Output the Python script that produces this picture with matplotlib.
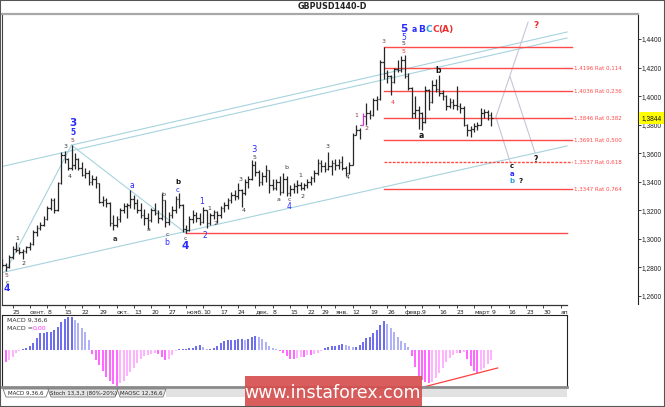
import matplotlib
matplotlib.use('Agg')
import matplotlib.pyplot as plt
import numpy as np
import pandas as pd
from matplotlib.collections import LineCollection
from matplotlib.patches import Rectangle, Polygon

plt.rcParams['font.family'] = ['DejaVu Sans']

# ---------------- data ----------------
opens = [1.2850, 1.2815, 1.2800, 1.2875, 1.2930, 1.2925, 1.2905, 1.2915, 1.2940, 1.2965,
         1.3045, 1.3075, 1.3100, 1.3140, 1.3215, 1.3270, 1.3200, 1.3390, 1.3590, 1.3560,
         1.3500, 1.3520, 1.3560, 1.3500, 1.3450, 1.3460, 1.3400, 1.3420, 1.3390, 1.3260,
         1.3270, 1.3250, 1.3110, 1.3100, 1.3140, 1.3200, 1.3230, 1.3240, 1.3280, 1.3250,
         1.3200, 1.3170, 1.3150, 1.3130, 1.3200, 1.3180, 1.3150, 1.3270, 1.3120, 1.3170,
         1.3200, 1.3280, 1.3240, 1.3070, 1.3060, 1.3140, 1.3170, 1.3150, 1.3120, 1.3200,
         1.3110, 1.3170, 1.3190, 1.3170, 1.3220, 1.3240, 1.3270, 1.3310, 1.3300, 1.3340,
         1.3320, 1.3400, 1.3420, 1.3520, 1.3470, 1.3400, 1.3440, 1.3480, 1.3380, 1.3360,
         1.3400, 1.3330, 1.3420, 1.3320, 1.3350, 1.3370, 1.3380, 1.3360, 1.3380, 1.3400,
         1.3430, 1.3460, 1.3530, 1.3510, 1.3490, 1.3510, 1.3530, 1.3520, 1.3540, 1.3500,
         1.3460, 1.3520, 1.3730, 1.3760, 1.3800, 1.3860, 1.3880, 1.3870, 1.3970, 1.3980,
         1.4240, 1.4160, 1.4140, 1.4100, 1.4190, 1.4180, 1.4250, 1.4140, 1.4060, 1.3880,
         1.3900, 1.3880, 1.3820, 1.4040, 1.3960, 1.4080, 1.4050, 1.4020, 1.4000, 1.3930,
         1.3960, 1.3940, 1.3930, 1.3920, 1.3800, 1.3760, 1.3770, 1.3790, 1.3800, 1.3880,
         1.3890, 1.3870]
highs = [1.2860, 1.2830, 1.2885, 1.2950, 1.2978, 1.2945, 1.2930, 1.2950, 1.2980, 1.3060,
         1.3095, 1.3120, 1.3160, 1.3230, 1.3290, 1.3290, 1.3400, 1.3610, 1.3618, 1.3570,
         1.3657, 1.3600, 1.3570, 1.3540, 1.3500, 1.3480, 1.3450, 1.3440, 1.3390, 1.3300,
         1.3290, 1.3260, 1.3170, 1.3160, 1.3220, 1.3250, 1.3250, 1.3340, 1.3310, 1.3280,
         1.3250, 1.3210, 1.3180, 1.3220, 1.3250, 1.3200, 1.3320, 1.3275, 1.3190, 1.3230,
         1.3300, 1.3320, 1.3245, 1.3100, 1.3160, 1.3200, 1.3190, 1.3180, 1.3225, 1.3205,
         1.3180, 1.3200, 1.3195, 1.3230, 1.3260, 1.3290, 1.3330, 1.3340, 1.3390, 1.3350,
         1.3420, 1.3440, 1.3550, 1.3549, 1.3480, 1.3470, 1.3520, 1.3485, 1.3420, 1.3420,
         1.3440, 1.3460, 1.3440, 1.3380, 1.3390, 1.3410, 1.3400, 1.3390, 1.3420, 1.3440,
         1.3480, 1.3560, 1.3550, 1.3540, 1.3612, 1.3550, 1.3560, 1.3560, 1.3580, 1.3510,
         1.3540, 1.3743, 1.3800, 1.3780, 1.3880, 1.3950, 1.3900, 1.3990, 1.4000, 1.4250,
         1.4345, 1.4180, 1.4150, 1.4200, 1.4250, 1.4280, 1.4285, 1.4160, 1.4065, 1.4000,
         1.3930, 1.3890, 1.4070, 1.4050, 1.4110, 1.4120, 1.4145, 1.4040, 1.4010, 1.3990,
         1.3980, 1.4070, 1.3950, 1.3930, 1.3805, 1.3790, 1.3810, 1.3820, 1.3920, 1.3910,
         1.3900, 1.3890]
lows = [1.2805, 1.2774, 1.2795, 1.2860, 1.2905, 1.2895, 1.2860, 1.2900, 1.2920, 1.2955,
        1.3020, 1.3060, 1.3090, 1.3130, 1.3200, 1.3180, 1.3195, 1.3385, 1.3530, 1.3480,
        1.3480, 1.3490, 1.3480, 1.3440, 1.3430, 1.3380, 1.3375, 1.3360, 1.3250, 1.3230,
        1.3225, 1.3090, 1.3060, 1.3080, 1.3120, 1.3185, 1.3150, 1.3220, 1.3210, 1.3180,
        1.3150, 1.3100, 1.3070, 1.3120, 1.3170, 1.3110, 1.3130, 1.3080, 1.3100, 1.3150,
        1.3180, 1.3220, 1.3045, 1.3039, 1.3055, 1.3110, 1.3120, 1.3100, 1.3110, 1.3076,
        1.3100, 1.3140, 1.3110, 1.3150, 1.3190, 1.3210, 1.3250, 1.3270, 1.3280, 1.3223,
        1.3310, 1.3360, 1.3415, 1.3440, 1.3370, 1.3380, 1.3400, 1.3320, 1.3340, 1.3340,
        1.3310, 1.3325, 1.3300, 1.3300, 1.3320, 1.3320, 1.3340, 1.3340, 1.3360, 1.3380,
        1.3400, 1.3450, 1.3470, 1.3470, 1.3485, 1.3450, 1.3480, 1.3490, 1.3480, 1.3440,
        1.3455, 1.3515, 1.3725, 1.3700, 1.3795, 1.3800, 1.3840, 1.3860, 1.3900, 1.3975,
        1.4120, 1.4090, 1.4010, 1.4090, 1.4170, 1.4170, 1.4130, 1.4040, 1.3850, 1.3850,
        1.3770, 1.3764, 1.3815, 1.3900, 1.3950, 1.4030, 1.4000, 1.3970, 1.3900, 1.3920,
        1.3910, 1.3900, 1.3880, 1.3790, 1.3720, 1.3711, 1.3750, 1.3760, 1.3795, 1.3850,
        1.3830, 1.3790]
closes = [1.2815, 1.2800, 1.2875, 1.2930, 1.2925, 1.2905, 1.2915, 1.2940, 1.2965, 1.3045,
          1.3075, 1.3100, 1.3140, 1.3215, 1.3270, 1.3200, 1.3390, 1.3590, 1.3560, 1.3500,
          1.3520, 1.3560, 1.3500, 1.3450, 1.3460, 1.3400, 1.3420, 1.3390, 1.3260, 1.3270,
          1.3250, 1.3110, 1.3100, 1.3140, 1.3200, 1.3230, 1.3240, 1.3280, 1.3250, 1.3200,
          1.3170, 1.3150, 1.3130, 1.3200, 1.3180, 1.3150, 1.3270, 1.3120, 1.3170, 1.3200,
          1.3280, 1.3240, 1.3070, 1.3060, 1.3140, 1.3170, 1.3150, 1.3120, 1.3200, 1.3110,
          1.3170, 1.3190, 1.3170, 1.3220, 1.3240, 1.3270, 1.3310, 1.3300, 1.3340, 1.3320,
          1.3400, 1.3420, 1.3520, 1.3470, 1.3400, 1.3440, 1.3480, 1.3380, 1.3360, 1.3400,
          1.3330, 1.3420, 1.3320, 1.3350, 1.3370, 1.3380, 1.3360, 1.3380, 1.3400, 1.3430,
          1.3460, 1.3530, 1.3510, 1.3490, 1.3510, 1.3530, 1.3520, 1.3540, 1.3500, 1.3460,
          1.3520, 1.3730, 1.3760, 1.3800, 1.3860, 1.3880, 1.3870, 1.3970, 1.3980, 1.4240,
          1.4160, 1.4140, 1.4100, 1.4190, 1.4180, 1.4250, 1.4140, 1.4060, 1.3880, 1.3900,
          1.3880, 1.3820, 1.4040, 1.3960, 1.4080, 1.4050, 1.4020, 1.4000, 1.3930, 1.3960,
          1.3940, 1.3930, 1.3920, 1.3800, 1.3760, 1.3770, 1.3790, 1.3800, 1.3880, 1.3890,
          1.3870, 1.3844]
macd_hist = [-12, -12, -10, -7, -3, -1, 1, 2, 4, 7,
             12, 17, 17, 18, 18, 20, 23, 28, 31, 33,
             33, 30, 27, 22, 18, 10, -4, -10, -15, -21,
             -27, -31, -34, -36, -33, -31, -26, -22, -18, -13,
             -9, -6, -5, -4, -3, -4, -7, -10, -9, -5,
             -1, 1, 1, 1, 2, 2, 4, 5, 3, 1,
             1, 2, 4, 7, 9, 10, 10, 10, 11, 11,
             10, 11, 13, 14, 13, 11, 8, 4, 2, 1,
             -1, -3, -6, -9, -9, -8, -7, -7, -5, -5,
             -4, -3, -1, 2, 3, 4, 4, 5, 6, 5,
             4, 3, 3, 5, 8, 12, 13, 17, 20, 25,
             29, 26, 22, 18, 13, 9, 7, 3, -6, -17,
             -26, -30, -32, -33, -32, -28, -23, -18, -12, -8,
             -5, -3, -3, -2, -9, -16, -21, -23, -20, -18,
             -14, -10]
highlight_bar = 104
fib_levels = [1.4345, 1.4196, 1.4036, 1.3846, 1.3691, 1.3537, 1.3347]
fib_ratios = ['', '0,114', '0,236', '0,382', '0,500', '0,618', '0,764']
support_level = 1.3041
last_price = 1.3844
price_ticks = [1.26, 1.28, 1.30, 1.32, 1.34, 1.36, 1.38, 1.40, 1.42, 1.44]
date_tick_labels = ['25', 'сент.', '8', '15', '22', '29', 'окт.', '13', '20', '27',
                    'нояб.', '10', '17', '24', 'дек.', '8', '15', '22', '29', 'янв.',
                    '12', '19', '26', 'февр.', '9', '16', '23', 'март', '9', '16',
                    '23', '30', 'ап']

# trading-day calendar (bar index <-> date)
holidays = pd.to_datetime(['2017-12-25', '2018-01-01'])
days = pd.bdate_range('2017-08-22', '2018-04-27')
days = days[~days.isin(holidays)]
fridays = days[(days.weekday == 4) & (days >= '2017-08-25') & (days <= '2018-04-06')]
tick_pos = days.get_indexer(fridays)

# ---------------- layout ----------------
W, H = 665, 407
fig = plt.figure(figsize=(W / 100, H / 100), dpi=100)
fig.patch.set_facecolor('white')


def frect(x0, y0, x1, y1):
    return [x0 / W, 1 - y1 / H, (x1 - x0) / W, (y1 - y0) / H]


def fp(x, y):
    return (x / W, 1 - y / H)


BAR0, STEP = 2.1, 3.47
XL = (1.5 - BAR0) / STEP
XR_MAIN = (638 - BAR0) / STEP
XR_SUB = (567 - BAR0) / STEP
YTOP = 1.44 + (39 - 14) / 1428
YBOT = 1.44 - (304 - 39) / 1428

ax = fig.add_axes(frect(1.5, 14, 638, 304))
ax.set_xlim(XL, XR_MAIN)
ax.set_ylim(YBOT, YTOP)
ax.set_facecolor('white')
ax.spines['bottom'].set_visible(False)
ax.spines['top'].set_color('#a8a8a8')
ax.spines['top'].set_linewidth(1.6)
ax.spines['left'].set_color('#444444')
ax.spines['right'].set_color('#222222')
ax.spines['right'].set_linewidth(0.8)
ax.set_xticks([])
ax.yaxis.tick_right()
ax.set_yticks(price_ticks)
ax.set_yticklabels([f'{v:.4f}'.replace('.', ',') for v in price_ticks],
                   fontfamily='Liberation Sans')
ax.tick_params(axis='y', direction='out', length=2.0, width=0.6, pad=0.6,
               labelsize=4.8, colors='#222222')

n = len(closes)
idx = np.arange(n)

# channel and wave lines
chan_col = '#a6d3de'
ax.plot([-0.6, 162.8], [1.2761, 1.3651], color=chan_col, lw=0.8, zorder=1)
ax.plot([-0.6, 162.8], [1.3504, 1.4407], color=chan_col, lw=0.8, zorder=1)
ax.plot([20, 162.8], [highs[20], 1.4449], color=chan_col, lw=0.8, zorder=1)
ax.plot([1, 20], [lows[1], highs[20]], color=chan_col, lw=0.8, zorder=1)
ax.plot([20, 53], [highs[20], lows[53]], color=chan_col, lw=0.8, zorder=1)

# projection lines
proj_col = '#cbc3d6'
ax.plot([142.3, 151.6], [1.3854, 1.4519], color=proj_col, lw=0.8, zorder=1)
ax.plot([146.4, 153.6], [1.4134, 1.3602], color=proj_col, lw=0.8, zorder=1)
ax.plot([142.3, 146.4], [1.3854, 1.3539], color=proj_col, lw=0.8, zorder=1)

# fib lines
fib_col = '#ff4a4a'
for lev, r in zip(fib_levels, fib_ratios):
    ls = (0, (2, 1)) if r == '0,618' else '-'
    ax.plot([110, 164.1], [lev, lev], color=fib_col, lw=1.0, ls=ls, zorder=2)
    if r:
        ax.text(164.8, lev, f'{lev:.4f}'.replace('.', ',') + ' Rat ' + r,
                fontsize=4, color=fib_col, va='center', ha='left')
ax.plot([53, XR_SUB], [support_level, support_level], color=fib_col, lw=1.0, zorder=2)

# OHLC bars
segs, cols = [], []
for i in range(n):
    c = '#d030d0' if i == highlight_bar else '#262626'
    segs += [[(i, lows[i]), (i, highs[i])],
             [(i - 0.45, opens[i]), (i, opens[i])],
             [(i, closes[i]), (i + 0.45, closes[i])]]
    cols += [c, c, c]
ax.add_collection(LineCollection(segs, colors=cols, linewidths=0.9, zorder=3))

# wave labels
BLUE, CYAN, RED, BROWN, DARK = '#2a2aff', '#2f9fdf', '#ee3030', '#8a3c3c', '#3a3a3a'
labels = [
    (1.4, 1.2747, '5', BROWN, 4.5, 'normal'), (1.4, 1.2698, 'c', DARK, 4.5, 'normal'),
    (1.4, 1.2652, '4', BLUE, 6.5, 'bold'),
    (4.3, 1.3006, '1', DARK, 4.5, 'normal'), (6.3, 1.2831, '2', DARK, 4.5, 'normal'),
    (18.4, 1.3646, '3', DARK, 4.5, 'normal'), (19.6, 1.3434, '4', DARK, 4.5, 'normal'),
    (20.4, 1.3688, '5', BROWN, 4.5, 'normal'), (20.4, 1.3745, '5', BLUE, 5.5, 'bold'),
    (20.4, 1.3812, '3', BLUE, 7.5, 'bold'),
    (32.5, 1.2999, 'a', DARK, 5, 'bold'), (37.4, 1.3371, 'a', BLUE, 5.5, 'normal'),
    (42.3, 1.3069, 'a', DARK, 4.5, 'normal'), (46.4, 1.3308, 'b', DARK, 4.5, 'normal'),
    (47.5, 1.3034, 'c', DARK, 4.5, 'normal'), (47.5, 1.2978, 'b', BLUE, 5.5, 'normal'),
    (50.7, 1.3400, 'b', '#111111', 5, 'bold'), (50.7, 1.3346, 'c', BLUE, 5, 'normal'),
    (52.7, 1.3006, 'c', DARK, 4.5, 'normal'), (52.7, 1.2948, '4', BLUE, 7.5, 'bold'),
    (57.6, 1.3259, '1', BLUE, 5.5, 'normal'), (58.5, 1.3027, '2', BLUE, 5.5, 'normal'),
    (59.6, 1.3210, '1', DARK, 4.5, 'normal'), (61.6, 1.3111, '2', DARK, 4.5, 'normal'),
    (68.6, 1.3413, '3', DARK, 4.5, 'normal'), (69.7, 1.3196, '4', DARK, 4.5, 'normal'),
    (72.6, 1.3625, '3', BLUE, 6, 'normal'), (72.6, 1.3567, '5', DARK, 4.5, 'normal'),
    (79.8, 1.3273, 'a', DARK, 4.5, 'normal'), (81.8, 1.3497, 'b', DARK, 4.5, 'normal'),
    (82.7, 1.3276, 'c', DARK, 4.5, 'normal'), (82.7, 1.3228, '4', BLUE, 5.5, 'normal'),
    (85.9, 1.3441, '1', DARK, 4.5, 'normal'), (86.7, 1.3294, '2', DARK, 4.5, 'normal'),
    (93.9, 1.3644, '3', DARK, 4.5, 'normal'), (99.7, 1.3427, '4', DARK, 4.5, 'normal'),
    (102.0, 1.3861, '1', BROWN, 4.5, 'normal'), (104.9, 1.3770, '2', BROWN, 4.5, 'normal'),
    (109.8, 1.4379, '3', BROWN, 4.5, 'normal'), (112.7, 1.3952, '4', RED, 4.5, 'normal'),
    (115.8, 1.4472, '5', BLUE, 7.5, 'bold'), (115.8, 1.4414, '5', BLUE, 5.5, 'normal'),
    (115.8, 1.4365, '5', DARK, 4.5, 'normal'), (115.8, 1.4309, '5', RED, 4.5, 'normal'),
    (118.8, 1.4470, 'a', BLUE, 5.5, 'bold'), (121.0, 1.4470, 'B', BLUE, 6.5, 'bold'),
    (123.0, 1.4470, 'C', CYAN, 6.5, 'bold'), (125.0, 1.4470, 'C', RED, 6.5, 'bold'),
    (128.0, 1.4470, '(A)', RED, 6.5, 'bold'),
    (125.6, 1.4176, 'b', '#111111', 5.5, 'bold'), (120.7, 1.3721, 'a', '#111111', 5.5, 'bold'),
    (153.9, 1.4498, '?', RED, 6.5, 'bold'),
    (146.9, 1.3508, 'c', '#111111', 5, 'bold'), (146.9, 1.3457, 'a', BLUE, 5, 'bold'),
    (146.9, 1.3406, 'b', CYAN, 5, 'bold'), (149.3, 1.3406, '?', '#111111', 5, 'bold'),
    (153.9, 1.3553, '?', '#111111', 5.5, 'bold'),
]
for x, y, t, c, s, w in labels:
    ax.text(x, y, t, color=c, fontsize=s, fontweight=w, ha='center', va='center', zorder=5)

# current price box
fig.add_artist(Rectangle(fp(638.5, 124), 26 / W, 12 / H, transform=fig.transFigure,
                         facecolor='#ffff00', edgecolor='none', zorder=10))
fig.text(*fp(651.5, 118.3), f'{last_price:.4f}'.replace('.', ','), fontsize=4.8,
         fontfamily='Liberation Sans', ha='center', va='center', color='#111111', zorder=11)

# date axis
axd = fig.add_axes(frect(1.5, 303.6, 567, 304.6))
axd.set_xlim(XL, XR_SUB)
axd.set_ylim(0, 1)
for s in ['top', 'left', 'right']:
    axd.spines[s].set_visible(False)
axd.spines['bottom'].set_color('#333333')
axd.spines['bottom'].set_linewidth(0.9)
axd.set_yticks([])
axd.set_xticks(tick_pos)
axd.set_xticklabels(date_tick_labels, ha='left')
axd.tick_params(axis='x', direction='out', length=2.5, width=0.6, pad=1.2,
                labelsize=4.4, colors='#222222')
axd.patch.set_alpha(0)

# MACD panel
axm = fig.add_axes(frect(1.5, 315, 567, 387))
axm.set_xlim(XL, XR_SUB)
axm.set_ylim(-37, 35)
axm.set_xticks([])
axm.set_yticks([])
for s in ['top', 'left', 'right']:
    axm.spines[s].set_color('#222222')
    axm.spines[s].set_linewidth(0.8)
axm.spines['bottom'].set_color('#8a8a8a')
axm.spines['bottom'].set_linewidth(2.0)
mh = np.array(macd_hist, dtype=float)
dh = np.diff(mh, prepend=mh[0])
mcols = []
for v, dv in zip(mh, dh):
    if v >= 0:
        mcols.append('#4444e8' if dv >= 0 else '#9a9af2')
    else:
        mcols.append('#ff3cff' if dv <= 0 else '#ff9cff')
axm.vlines(idx, 0, mh, colors=mcols, linewidths=1.1)
axm.plot([122.0, 142.8], [-36.5, -18], color='#ff4040', lw=0.9)
axm.text(1.5, 30, 'MACD 9,36,6', fontsize=4.5, color='#333333', va='center', ha='left')
axm.text(1.5, 22, 'MACD =', fontsize=4.5, color='#333333', va='center', ha='left')
axm.text(8.9, 22, '0,00', fontsize=4.5, color='#ff30ff', va='center', ha='left')

# tab strip
fig.add_artist(Rectangle(fp(166, 397), (567 - 166) / W, 8 / H, transform=fig.transFigure,
                         facecolor='#e2e2e2', edgecolor='none', zorder=1))
tabs = [(3, 49, 'MACD 9,36,6', 'white'),
        (48, 118, 'Stoch 13,3,3 (80%-20%)', '#e4e4e4'),
        (117, 166, 'MAOSC 12,36,6', '#e4e4e4')]
for x0, x1, t, fc in tabs:
    poly = Polygon([fp(x0, 389), fp(x0 + 3, 397), fp(x1 - 3, 397), fp(x1, 389)],
                   closed=True, transform=fig.transFigure, facecolor=fc,
                   edgecolor='#777777', lw=0.6, zorder=2)
    fig.add_artist(poly)
    fig.text(*fp((x0 + x1) / 2, 393), t, fontsize=4.0, ha='center', va='center',
             color='#222222', zorder=3)

# watermark
fig.add_artist(Rectangle(fp(245, 407), (422 - 245) / W, 31 / H, transform=fig.transFigure,
                         facecolor='#d64f4f', edgecolor='none', alpha=0.92, zorder=20))
fig.text(*fp(333, 392.5), 'www.instaforex.com', fontsize=12.5, color='white',
         ha='center', va='center', zorder=21)

# title
fig.text(*fp(332, 6.5), 'GBPUSD1440-D', fontsize=5.8, fontweight='bold',
         ha='center', va='center', color='#222222')

# outer frame
fig.add_artist(Rectangle((0, 0), 1, 1, transform=fig.transFigure, fill=False,
                         edgecolor='#555555', lw=1.5, zorder=30))

fig.savefig('out.png', dpi=100)
